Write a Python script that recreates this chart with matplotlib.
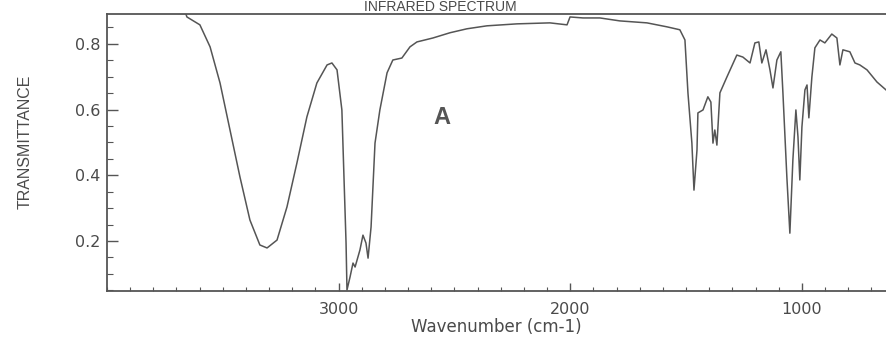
import matplotlib
matplotlib.use("Agg")
import matplotlib.pyplot as plt
from matplotlib.ticker import MultipleLocator, FixedLocator

# ---- data ----
wavenumber = [3750, 3660, 3655, 3599, 3555, 3512, 3469, 3426, 3383, 3340, 3309,
              3266, 3223, 3180, 3137, 3094, 3050, 3029, 3007, 2986, 2977, 2968,
              2964, 2951, 2938, 2929, 2908, 2895, 2882, 2873, 2860, 2843, 2822,
              2791, 2766, 2727, 2692, 2662, 2593, 2519, 2446, 2360, 2230, 2088,
              2014, 2001, 1945, 1872, 1786, 1669, 1583, 1527, 1505, 1492, 1475,
              1466, 1453, 1449, 1427, 1406, 1393, 1384, 1376, 1367, 1354, 1324,
              1281, 1255, 1224, 1203, 1186, 1173, 1155, 1138, 1125, 1108, 1091,
              1082, 1065, 1052, 1039, 1026, 1017, 1009, 1000, 987, 978, 970, 957,
              944, 922, 901, 871, 849, 836, 823, 793, 771, 750, 719, 676, 637]
transmittance = [0.895, 0.892, 0.882, 0.858, 0.791, 0.681, 0.538, 0.395, 0.264, 0.188, 0.179,
                 0.203, 0.304, 0.438, 0.578, 0.681, 0.736, 0.742, 0.721, 0.599, 0.395, 0.194,
                 0.051, 0.090, 0.133, 0.121, 0.173, 0.218, 0.194, 0.148, 0.243, 0.498, 0.599,
                 0.712, 0.751, 0.757, 0.791, 0.806, 0.818, 0.834, 0.846, 0.855, 0.861, 0.864,
                 0.858, 0.882, 0.879, 0.879, 0.870, 0.864, 0.852, 0.843, 0.812, 0.651, 0.498,
                 0.355, 0.477, 0.590, 0.599, 0.639, 0.623, 0.498, 0.538, 0.492, 0.651, 0.699,
                 0.766, 0.760, 0.742, 0.803, 0.806, 0.742, 0.782, 0.721, 0.666, 0.751, 0.776,
                 0.651, 0.395, 0.224, 0.447, 0.599, 0.517, 0.386, 0.547, 0.660, 0.675, 0.575, 0.699,
                 0.788, 0.812, 0.803, 0.830, 0.818, 0.736, 0.782, 0.776, 0.742, 0.736, 0.721, 0.684, 0.660]

x_major = [3000, 2000, 1000]
x_major_labels = ["3000", "2000", "1000"]
y_major = [0.2, 0.4, 0.6, 0.8]
y_major_labels = ["0.2", "0.4", "0.6", "0.8"]

title_text = "INFRARED SPECTRUM"
xlabel_text = "Wavenumber (cm-1)"
ylabel_text = "TRANSMITTANCE"
panel_letter = "A"

# ---- figure ----
W, H = 886, 338
fig = plt.figure(figsize=(W / 100, H / 100), dpi=100)
fig.patch.set_facecolor("white")
ax = fig.add_axes([107 / W, (H - 291) / H, 779 / W, 277 / H])

line_c = "#555555"
text_c = "#4a4a4a"

ax.plot(wavenumber, transmittance, color=line_c, lw=1.1)

ax.set_xlim(4000, 637)
ax.set_ylim(0.048, 0.891)

for s in ["left", "bottom", "top"]:
    ax.spines[s].set_color("#555555")
    ax.spines[s].set_linewidth(1.3)
ax.spines["right"].set_visible(False)

ax.xaxis.set_major_locator(FixedLocator(x_major))
ax.set_xticklabels(x_major_labels)
ax.xaxis.set_minor_locator(MultipleLocator(100))
ax.yaxis.set_major_locator(FixedLocator(y_major))
ax.set_yticklabels(y_major_labels)
ax.yaxis.set_minor_locator(MultipleLocator(0.05))

ax.tick_params(axis="both", which="both", direction="in", colors="#555555",
               labelcolor=text_c, top=False, right=False)
ax.tick_params(axis="x", which="major", length=6, width=1, pad=8, labelsize=11.5)
ax.tick_params(axis="x", which="minor", length=3, width=0.8)
ax.tick_params(axis="y", which="major", length=8, width=1, pad=5, labelsize=11.5)
ax.tick_params(axis="y", which="minor", length=4, width=0.8)

ax.set_xlabel(xlabel_text, fontsize=12, color=text_c, labelpad=1)
fig.text(25 / W, 1 - 142 / H, ylabel_text, rotation=90, ha="center", va="center",
         fontsize=11.5, color=text_c, family="Liberation Sans")

fig.text(440 / W, 1 - 11 / H, title_text, ha="center", va="baseline",
         fontsize=10, color=text_c, family="Liberation Sans")

fig.text(442 / W, 1 - 117 / H, panel_letter, ha="center", va="center",
         fontsize=17, fontweight="bold", color="#555555", family="Liberation Sans")

fig.savefig("out.png", dpi=100, facecolor="white")
